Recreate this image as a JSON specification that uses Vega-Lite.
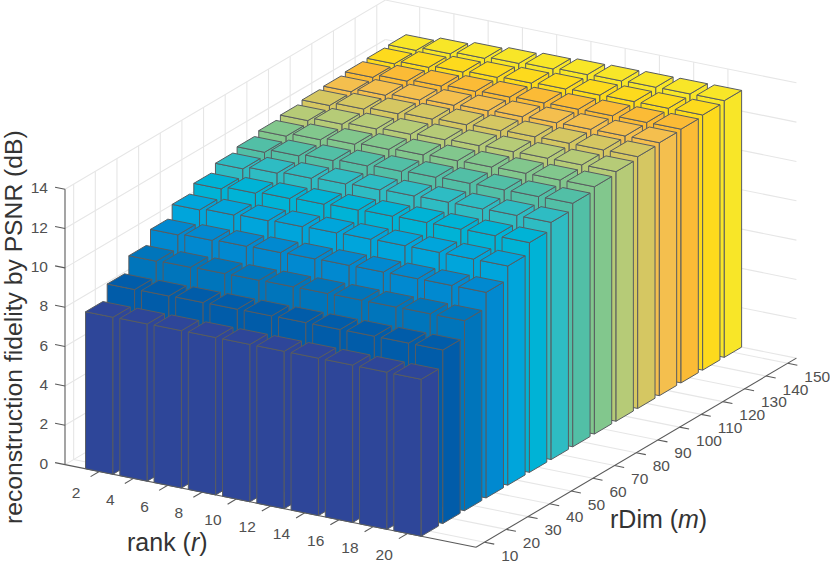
{"$schema":"https://vega.github.io/schema/vega-lite/v6.json","width":830,"height":563,"padding":0,"autosize":{"type":"none"},"background":"white","config":{"view":{"stroke":null}},
"datasets":{
"bars":[
{"rDim":150,"v":[12.45,12.63,12.75,12.84,12.91,12.97,13.00,13.03,13.04,13.05]},
{"rDim":140,"v":[12.42,12.59,12.70,12.78,12.84,12.89,12.93,12.95,12.96,12.97]},
{"rDim":130,"v":[12.38,12.54,12.64,12.72,12.78,12.83,12.86,12.88,12.89,12.90]},
{"rDim":120,"v":[12.30,12.47,12.58,12.66,12.73,12.78,12.82,12.84,12.85,12.86]},
{"rDim":110,"v":[12.25,12.42,12.53,12.61,12.67,12.72,12.76,12.78,12.79,12.80]},
{"rDim":100,"v":[12.13,12.30,12.41,12.49,12.56,12.61,12.65,12.67,12.68,12.69]},
{"rDim":90,"v":[11.99,12.16,12.28,12.37,12.44,12.49,12.52,12.55,12.56,12.57]},
{"rDim":80,"v":[11.82,11.99,12.10,12.18,12.25,12.30,12.34,12.36,12.37,12.38]},
{"rDim":70,"v":[11.63,11.76,11.85,11.91,11.96,12.00,12.03,12.04,12.06,12.06]},
{"rDim":60,"v":[11.26,11.39,11.47,11.53,11.58,11.62,11.65,11.66,11.68,11.68]},
{"rDim":50,"v":[10.84,10.93,10.99,11.04,11.07,11.10,11.12,11.13,11.14,11.14]},
{"rDim":40,"v":[10.22,10.29,10.34,10.37,10.40,10.42,10.43,10.44,10.45,10.45]},
{"rDim":30,"v":[9.53,9.57,9.60,9.61,9.63,9.64,9.65,9.65,9.66,9.66]},
{"rDim":20,"v":[8.74,8.76,8.78,8.79,8.80,8.81,8.81,8.82,8.82,8.82]},
{"rDim":10,"v":[7.98,7.99,8.00,8.00,8.00,8.00,8.00,8.00,7.99,7.98]}
],
"grid":[
{"r1":0,"m1":6,"z1":0,"r2":0,"m2":154,"z2":0},{"r1":0,"m1":6,"z1":2,"r2":0,"m2":154,"z2":2},{"r1":0,"m1":6,"z1":4,"r2":0,"m2":154,"z2":4},{"r1":0,"m1":6,"z1":6,"r2":0,"m2":154,"z2":6},{"r1":0,"m1":6,"z1":8,"r2":0,"m2":154,"z2":8},{"r1":0,"m1":6,"z1":10,"r2":0,"m2":154,"z2":10},{"r1":0,"m1":6,"z1":12,"r2":0,"m2":154,"z2":12},{"r1":0,"m1":6,"z1":14,"r2":0,"m2":154,"z2":14},
{"r1":0,"m1":154,"z1":0,"r2":24,"m2":154,"z2":0},{"r1":0,"m1":154,"z1":2,"r2":24,"m2":154,"z2":2},{"r1":0,"m1":154,"z1":4,"r2":24,"m2":154,"z2":4},{"r1":0,"m1":154,"z1":6,"r2":24,"m2":154,"z2":6},{"r1":0,"m1":154,"z1":8,"r2":24,"m2":154,"z2":8},{"r1":0,"m1":154,"z1":10,"r2":24,"m2":154,"z2":10},{"r1":0,"m1":154,"z1":12,"r2":24,"m2":154,"z2":12},{"r1":0,"m1":154,"z1":14,"r2":24,"m2":154,"z2":14},
{"r1":0,"m1":10,"z1":0,"r2":0,"m2":10,"z2":14},{"r1":0,"m1":20,"z1":0,"r2":0,"m2":20,"z2":14},{"r1":0,"m1":30,"z1":0,"r2":0,"m2":30,"z2":14},{"r1":0,"m1":40,"z1":0,"r2":0,"m2":40,"z2":14},{"r1":0,"m1":50,"z1":0,"r2":0,"m2":50,"z2":14},{"r1":0,"m1":60,"z1":0,"r2":0,"m2":60,"z2":14},{"r1":0,"m1":70,"z1":0,"r2":0,"m2":70,"z2":14},{"r1":0,"m1":80,"z1":0,"r2":0,"m2":80,"z2":14},{"r1":0,"m1":90,"z1":0,"r2":0,"m2":90,"z2":14},{"r1":0,"m1":100,"z1":0,"r2":0,"m2":100,"z2":14},{"r1":0,"m1":110,"z1":0,"r2":0,"m2":110,"z2":14},{"r1":0,"m1":120,"z1":0,"r2":0,"m2":120,"z2":14},{"r1":0,"m1":130,"z1":0,"r2":0,"m2":130,"z2":14},{"r1":0,"m1":140,"z1":0,"r2":0,"m2":140,"z2":14},{"r1":0,"m1":150,"z1":0,"r2":0,"m2":150,"z2":14},
{"r1":2,"m1":154,"z1":0,"r2":2,"m2":154,"z2":14},{"r1":4,"m1":154,"z1":0,"r2":4,"m2":154,"z2":14},{"r1":6,"m1":154,"z1":0,"r2":6,"m2":154,"z2":14},{"r1":8,"m1":154,"z1":0,"r2":8,"m2":154,"z2":14},{"r1":10,"m1":154,"z1":0,"r2":10,"m2":154,"z2":14},{"r1":12,"m1":154,"z1":0,"r2":12,"m2":154,"z2":14},{"r1":14,"m1":154,"z1":0,"r2":14,"m2":154,"z2":14},{"r1":16,"m1":154,"z1":0,"r2":16,"m2":154,"z2":14},{"r1":18,"m1":154,"z1":0,"r2":18,"m2":154,"z2":14},{"r1":20,"m1":154,"z1":0,"r2":20,"m2":154,"z2":14},
{"r1":2,"m1":6,"z1":0,"r2":2,"m2":154,"z2":0},{"r1":4,"m1":6,"z1":0,"r2":4,"m2":154,"z2":0},{"r1":6,"m1":6,"z1":0,"r2":6,"m2":154,"z2":0},{"r1":8,"m1":6,"z1":0,"r2":8,"m2":154,"z2":0},{"r1":10,"m1":6,"z1":0,"r2":10,"m2":154,"z2":0},{"r1":12,"m1":6,"z1":0,"r2":12,"m2":154,"z2":0},{"r1":14,"m1":6,"z1":0,"r2":14,"m2":154,"z2":0},{"r1":16,"m1":6,"z1":0,"r2":16,"m2":154,"z2":0},{"r1":18,"m1":6,"z1":0,"r2":18,"m2":154,"z2":0},{"r1":20,"m1":6,"z1":0,"r2":20,"m2":154,"z2":0},
{"r1":0,"m1":10,"z1":0,"r2":24,"m2":10,"z2":0},{"r1":0,"m1":20,"z1":0,"r2":24,"m2":20,"z2":0},{"r1":0,"m1":30,"z1":0,"r2":24,"m2":30,"z2":0},{"r1":0,"m1":40,"z1":0,"r2":24,"m2":40,"z2":0},{"r1":0,"m1":50,"z1":0,"r2":24,"m2":50,"z2":0},{"r1":0,"m1":60,"z1":0,"r2":24,"m2":60,"z2":0},{"r1":0,"m1":70,"z1":0,"r2":24,"m2":70,"z2":0},{"r1":0,"m1":80,"z1":0,"r2":24,"m2":80,"z2":0},{"r1":0,"m1":90,"z1":0,"r2":24,"m2":90,"z2":0},{"r1":0,"m1":100,"z1":0,"r2":24,"m2":100,"z2":0},{"r1":0,"m1":110,"z1":0,"r2":24,"m2":110,"z2":0},{"r1":0,"m1":120,"z1":0,"r2":24,"m2":120,"z2":0},{"r1":0,"m1":130,"z1":0,"r2":24,"m2":130,"z2":0},{"r1":0,"m1":140,"z1":0,"r2":24,"m2":140,"z2":0},{"r1":0,"m1":150,"z1":0,"r2":24,"m2":150,"z2":0}
],
"axis":[
{"r1":0,"m1":6,"z1":0,"r2":0,"m2":6,"z2":14},{"r1":0,"m1":6,"z1":0,"r2":24,"m2":6,"z2":0},{"r1":24,"m1":6,"z1":0,"r2":24,"m2":154,"z2":0},
{"r1":0,"m1":6,"z1":0,"r2":-0.58,"m2":6,"z2":0},{"r1":0,"m1":6,"z1":2,"r2":-0.58,"m2":6,"z2":2},{"r1":0,"m1":6,"z1":4,"r2":-0.58,"m2":6,"z2":4},{"r1":0,"m1":6,"z1":6,"r2":-0.58,"m2":6,"z2":6},{"r1":0,"m1":6,"z1":8,"r2":-0.58,"m2":6,"z2":8},{"r1":0,"m1":6,"z1":10,"r2":-0.58,"m2":6,"z2":10},{"r1":0,"m1":6,"z1":12,"r2":-0.58,"m2":6,"z2":12},{"r1":0,"m1":6,"z1":14,"r2":-0.58,"m2":6,"z2":14},
{"r1":2,"m1":6,"z1":0,"r2":2,"m2":2,"z2":0},{"r1":4,"m1":6,"z1":0,"r2":4,"m2":2,"z2":0},{"r1":6,"m1":6,"z1":0,"r2":6,"m2":2,"z2":0},{"r1":8,"m1":6,"z1":0,"r2":8,"m2":2,"z2":0},{"r1":10,"m1":6,"z1":0,"r2":10,"m2":2,"z2":0},{"r1":12,"m1":6,"z1":0,"r2":12,"m2":2,"z2":0},{"r1":14,"m1":6,"z1":0,"r2":14,"m2":2,"z2":0},{"r1":16,"m1":6,"z1":0,"r2":16,"m2":2,"z2":0},{"r1":18,"m1":6,"z1":0,"r2":18,"m2":2,"z2":0},{"r1":20,"m1":6,"z1":0,"r2":20,"m2":2,"z2":0},
{"r1":24,"m1":10,"z1":0,"r2":24.56,"m2":10,"z2":0},{"r1":24,"m1":20,"z1":0,"r2":24.56,"m2":20,"z2":0},{"r1":24,"m1":30,"z1":0,"r2":24.56,"m2":30,"z2":0},{"r1":24,"m1":40,"z1":0,"r2":24.56,"m2":40,"z2":0},{"r1":24,"m1":50,"z1":0,"r2":24.56,"m2":50,"z2":0},{"r1":24,"m1":60,"z1":0,"r2":24.56,"m2":60,"z2":0},{"r1":24,"m1":70,"z1":0,"r2":24.56,"m2":70,"z2":0},{"r1":24,"m1":80,"z1":0,"r2":24.56,"m2":80,"z2":0},{"r1":24,"m1":90,"z1":0,"r2":24.56,"m2":90,"z2":0},{"r1":24,"m1":100,"z1":0,"r2":24.56,"m2":100,"z2":0},{"r1":24,"m1":110,"z1":0,"r2":24.56,"m2":110,"z2":0},{"r1":24,"m1":120,"z1":0,"r2":24.56,"m2":120,"z2":0},{"r1":24,"m1":130,"z1":0,"r2":24.56,"m2":130,"z2":0},{"r1":24,"m1":140,"z1":0,"r2":24.56,"m2":140,"z2":0},{"r1":24,"m1":150,"z1":0,"r2":24.56,"m2":150,"z2":0}
]},
"layer":[
{"data":{"name":"grid"},"mark":{"type":"rule","color":"#e6e6e6","strokeWidth":1.1},
"transform":[{"calculate":"65+datum.r1*17.125+(datum.m1/10-0.6)*21.65","as":"sx"},{"calculate":"464.6+datum.r1*3.445-(datum.m1/10-0.6)*12.78-datum.z1*19.67","as":"sy"},{"calculate":"65+datum.r2*17.125+(datum.m2/10-0.6)*21.65","as":"sx2"},{"calculate":"464.6+datum.r2*3.445-(datum.m2/10-0.6)*12.78-datum.z2*19.67","as":"sy2"}],
"encoding":{"x":{"field":"sx","type":"quantitative","scale":{"domain":[0,830],"range":[0,830],"nice":false,"zero":false},"axis":null},"y":{"field":"sy","type":"quantitative","scale":{"domain":[0,563],"range":[0,563],"nice":false,"zero":false},"axis":null},"x2":{"field":"sx2"},"y2":{"field":"sy2"}}},
{"data":{"name":"axis"},"mark":{"type":"rule","color":"#5a5a5a","strokeWidth":1.1},
"transform":[{"calculate":"65+datum.r1*17.125+(datum.m1/10-0.6)*21.65","as":"sx"},{"calculate":"464.6+datum.r1*3.445-(datum.m1/10-0.6)*12.78-datum.z1*19.67","as":"sy"},{"calculate":"65+datum.r2*17.125+(datum.m2/10-0.6)*21.65","as":"sx2"},{"calculate":"464.6+datum.r2*3.445-(datum.m2/10-0.6)*12.78-datum.z2*19.67","as":"sy2"}],
"encoding":{"x":{"field":"sx","type":"quantitative","scale":{"domain":[0,830],"range":[0,830],"nice":false,"zero":false},"axis":null},"y":{"field":"sy","type":"quantitative","scale":{"domain":[0,563],"range":[0,563],"nice":false,"zero":false},"axis":null},"x2":{"field":"sx2"},"y2":{"field":"sy2"}}},
{"data":{"name":"bars"},
"transform":[
{"calculate":"[0,1,2,3,4,5,6,7,8,9]","as":"k"},{"flatten":["k"]},
{"calculate":"(datum.k+1)*2","as":"rank"},{"calculate":"datum.v[datum.k]","as":"psnr"},
{"calculate":"[0,1,2]","as":"face"},{"flatten":["face"]},
{"calculate":"[0,1,2,3,4]","as":"corner"},{"flatten":["corner"]},
{"calculate":"datum.rank/2+0.4*[[-1,1,1,-1,-1],[1,1,1,1,1],[-1,1,1,-1,-1]][datum.face][datum.corner]","as":"X"},
{"calculate":"datum.rDim/10-0.6+0.4*[[-1,-1,-1,-1,-1],[-1,1,1,-1,-1],[-1,-1,1,1,-1]][datum.face][datum.corner]","as":"Y"},
{"calculate":"datum.psnr*[[0,0,1,1,0],[0,0,1,1,0],[1,1,1,1,1]][datum.face][datum.corner]","as":"Z"},
{"calculate":"65+datum.X*34.25+datum.Y*21.65","as":"sx"},
{"calculate":"464.6+datum.X*6.89-datum.Y*12.78-datum.Z*19.67","as":"sy"},
{"calculate":"datum.rDim+'-'+datum.rank+'-'+datum.face","as":"poly"}],
"mark":{"type":"line","filled":true,"stroke":"#585c60","strokeWidth":1,"strokeJoin":"round"},
"encoding":{"x":{"field":"sx","type":"quantitative","scale":{"domain":[0,830],"range":[0,830],"nice":false,"zero":false},"axis":null},"y":{"field":"sy","type":"quantitative","scale":{"domain":[0,563],"range":[0,563],"nice":false,"zero":false},"axis":null},"detail":{"field":"poly"},"order":{"field":"corner"},
"fill":{"field":"rDim","type":"ordinal","legend":null,"scale":{"domain":[10,20,30,40,50,60,70,80,90,100,110,120,130,140,150],"range":["#2E4699","#015CA9","#0075BB","#0189D0","#00A5DB","#00B3D6","#2EBCC3","#52BFA6","#82C78D","#B6CB77","#D5C762","#F4BF4E","#FBBB36","#FDDA1D","#F8E628"]}}}},
{"data":{"values":[{"z":0},{"z":2},{"z":4},{"z":6},{"z":8},{"z":10},{"z":12},{"z":14}]},
"transform":[{"calculate":"464.6-datum.z*19.67","as":"sy"},{"calculate":"65","as":"sx"}],
"mark":{"type":"text","font":"Liberation Sans","fontSize":15.5,"color":"#505050","align":"right","baseline":"middle","dx":-17,"dy":-1},
"encoding":{"x":{"field":"sx","type":"quantitative","scale":{"domain":[0,830],"range":[0,830],"nice":false,"zero":false},"axis":null},"y":{"field":"sy","type":"quantitative","scale":{"domain":[0,563],"range":[0,563],"nice":false,"zero":false},"axis":null},"text":{"field":"z"}}},
{"data":{"values":[{"r":2},{"r":4},{"r":6},{"r":8},{"r":10},{"r":12},{"r":14},{"r":16},{"r":18},{"r":20}]},
"transform":[{"calculate":"65+datum.r*17.125","as":"sx"},{"calculate":"464.6+datum.r*3.445","as":"sy"}],
"mark":{"type":"text","font":"Liberation Sans","fontSize":15.5,"color":"#505050","align":"center","baseline":"middle","dx":-23.3,"dy":21.3},
"encoding":{"x":{"field":"sx","type":"quantitative","scale":{"domain":[0,830],"range":[0,830],"nice":false,"zero":false},"axis":null},"y":{"field":"sy","type":"quantitative","scale":{"domain":[0,563],"range":[0,563],"nice":false,"zero":false},"axis":null},"text":{"field":"r"}}},
{"data":{"values":[{"m":10},{"m":20},{"m":30},{"m":40},{"m":50},{"m":60},{"m":70},{"m":80},{"m":90},{"m":100},{"m":110},{"m":120},{"m":130},{"m":140},{"m":150}]},
"transform":[{"calculate":"65+24*17.125+(datum.m/10-0.6)*21.65","as":"sx"},{"calculate":"464.6+24*3.445-(datum.m/10-0.6)*12.78","as":"sy"}],
"mark":{"type":"text","font":"Liberation Sans","fontSize":15.5,"color":"#505050","align":"left","baseline":"middle","dx":16.5,"dy":13.5},
"encoding":{"x":{"field":"sx","type":"quantitative","scale":{"domain":[0,830],"range":[0,830],"nice":false,"zero":false},"axis":null},"y":{"field":"sy","type":"quantitative","scale":{"domain":[0,563],"range":[0,563],"nice":false,"zero":false},"axis":null},"text":{"field":"m"}}},
{"data":{"values":[{"t":"reconstruction fidelity by PSNR (dB)","r":-2.5,"m":6,"z":6.55}]},
"transform":[{"calculate":"65+datum.r*17.125+(datum.m/10-0.6)*21.65","as":"sx"},{"calculate":"464.6+datum.r*3.445-(datum.m/10-0.6)*12.78-datum.z*19.67","as":"sy"}],
"mark":{"type":"text","font":"Liberation Sans","fontSize":24.7,"color":"#333333","align":"center","baseline":"alphabetic","angle":270},
"encoding":{"x":{"field":"sx","type":"quantitative","scale":{"domain":[0,830],"range":[0,830],"nice":false,"zero":false},"axis":null},"y":{"field":"sy","type":"quantitative","scale":{"domain":[0,563],"range":[0,563],"nice":false,"zero":false},"axis":null},"text":{"field":"t"}}},
{"data":{"values":[{"t":"rank (","r":3.62,"m":6,"z":-3.76},{"t":")","r":7.84,"m":6,"z":-3.03},{"t":"rDim (","r":24,"m":67.9,"z":-3.06},{"t":")","r":24,"m":108.9,"z":-5.72}]},
"transform":[{"calculate":"65+datum.r*17.125+(datum.m/10-0.6)*21.65","as":"sx"},{"calculate":"464.6+datum.r*3.445-(datum.m/10-0.6)*12.78-datum.z*19.67","as":"sy"}],
"mark":{"type":"text","font":"Liberation Sans","fontSize":25,"color":"#333333","align":"left","baseline":"alphabetic"},
"encoding":{"x":{"field":"sx","type":"quantitative","scale":{"domain":[0,830],"range":[0,830],"nice":false,"zero":false},"axis":null},"y":{"field":"sy","type":"quantitative","scale":{"domain":[0,563],"range":[0,563],"nice":false,"zero":false},"axis":null},"text":{"field":"t"}}},
{"data":{"values":[{"t":"r","r":7.36,"m":6,"z":-3.11},{"t":"m","r":24,"m":99.3,"z":-5.09}]},
"transform":[{"calculate":"65+datum.r*17.125+(datum.m/10-0.6)*21.65","as":"sx"},{"calculate":"464.6+datum.r*3.445-(datum.m/10-0.6)*12.78-datum.z*19.67","as":"sy"}],
"mark":{"type":"text","font":"Liberation Sans","fontSize":25,"fontStyle":"italic","color":"#333333","align":"left","baseline":"alphabetic"},
"encoding":{"x":{"field":"sx","type":"quantitative","scale":{"domain":[0,830],"range":[0,830],"nice":false,"zero":false},"axis":null},"y":{"field":"sy","type":"quantitative","scale":{"domain":[0,563],"range":[0,563],"nice":false,"zero":false},"axis":null},"text":{"field":"t"}}}
]}
